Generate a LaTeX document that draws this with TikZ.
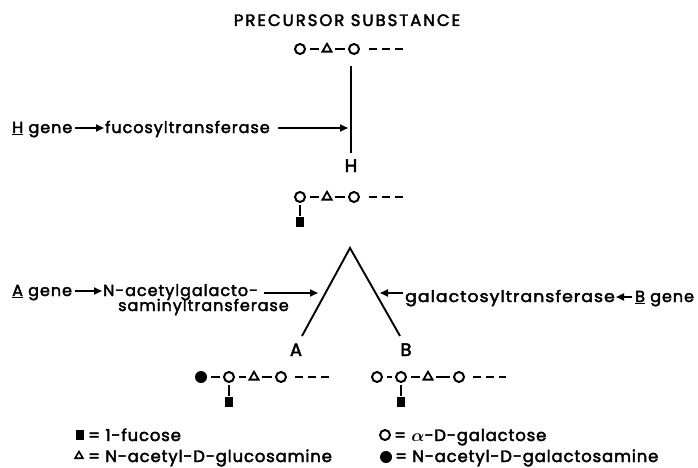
\documentclass[tikz,border=0pt]{standalone}
\usepackage{fontspec}
\setmainfont[LetterSpace=6,FakeBold=2.5]{Poppins}
\newfontfamily\legfont[LetterSpace=5,FakeBold=2.5]{Poppins}
\newfontfamily\titlefont[LetterSpace=12,FakeBold=2.5]{Poppins}
\usetikzlibrary{arrows.meta,shapes.geometric}
\begin{document}
\begin{tikzpicture}[x=1pt,y=-1pt,
  txt/.style={inner sep=0pt, anchor=base west, font=\fontsize{16}{18}\selectfont},
  big/.style={inner sep=0pt, anchor=base, font=\fontsize{18}{20}\selectfont},
  leg/.style={inner sep=0pt, anchor=base west, font=\legfont\fontsize{16.5}{19}\selectfont},
  gal/.style={circle, draw, line width=2pt, minimum size=10pt, inner sep=0pt},
  galnac/.style={circle, fill, minimum size=12pt, inner sep=0pt},
  glc/.style={regular polygon, regular polygon sides=3, draw, line width=1.8pt, minimum size=10.5pt, inner sep=0pt},
  fuc/.style={rectangle, fill, minimum width=8.5pt, minimum height=10.5pt, inner sep=0pt},
  bond/.style={line width=2pt, shorten <=3.5pt, shorten >=3.5pt},
  tail/.style={line width=2pt, dash pattern=on 8pt off 5pt},
  link/.style={line width=1.9pt},
  arr/.style={line width=1.7pt, -{Triangle[length=8pt,width=7pt]}},
]
\useasboundingbox (0,0) rectangle (698,468);

% title
\node[inner sep=0pt, anchor=base, font=\titlefont\fontsize{16.5}{19}\selectfont] (title) at (347,26) {PRECURSOR SUBSTANCE};

% top chain
\node[gal] (p1) at (300,49) {};
\node[glc] (p2) at (327,49) {};
\node[gal] (p3) at (354,49) {};
\coordinate (p4) at (369,49);
\coordinate (p5) at (404,49);
\draw[bond] (p1) -- (p2);
\draw[bond] (p2) -- (p3);
\draw[tail] (p4) -- (p5);

% H step
\coordinate (vtop) at (351,66);
\coordinate (vbot) at (351,153);
\draw[link] (vtop) -- (vbot);
\node[big] (hlab) at (351,172) {H};
\node[txt] (hgene) at (12,133) {\underline{H} gene};
\node[txt] (hfuc) at (105,133) {fucosyltransferase};
\coordinate (htip) at (348,128);
\draw[arr] ([xshift=3pt,yshift=5pt]hgene.base east) -- ([xshift=-1pt,yshift=5pt]hfuc.base west);
\draw[arr] ([xshift=8pt,yshift=5pt]hfuc.base east) -- (htip);

% H chain
\node[gal] (q1) at (300,197) {};
\node[glc] (q2) at (327,197) {};
\node[gal] (q3) at (354,197) {};
\coordinate (q4) at (369,197);
\coordinate (q5) at (404,197);
\node[fuc] (qf) at (300,222) {};
\draw[bond] (q1) -- (q2);
\draw[bond] (q2) -- (q3);
\draw[tail] (q4) -- (q5);
\draw[bond, shorten <=2pt, shorten >=1pt] (q1) -- (qf);

% branching
\coordinate (apex) at (350,248);
\coordinate (footA) at (302,336);
\coordinate (footB) at (400,336);
\draw[link, line join=miter] (footA) -- (apex) -- (footB);
\node[big] (alab) at (296,356) {A};
\node[big] (blab) at (406,356) {B};

% A enzyme
\node[txt] (agene) at (12,296) {\underline{A} gene};
\node[txt] (aenz1) at (103,296) {N-acetylgalacto-};
\node[txt] (aenz2) at (118,311) {saminyltransferase};
\coordinate (atip) at (318,293);
\draw[arr] ([xshift=3pt,yshift=5pt]agene.base east) -- ([xshift=-1pt,yshift=5pt]aenz1.base west);
\draw[arr] ([xshift=6pt,yshift=3pt]aenz1.base east) -- (atip);

% B enzyme
\node[txt] (benz) at (405,302) {\scalebox{1.08}[1]{galactosyltransferase}};
\node[txt] (bgene) at (635,302) {\underline{B} gene};
\coordinate (btip) at (380,293);
\draw[arr] ([xshift=-2pt,yshift=9pt]benz.base west) -- (btip);
\draw[arr] ([xshift=-3pt,yshift=5pt]bgene.base west) -- ([xshift=1pt,yshift=5pt]benz.base east);

% A product
\node[galnac] (r0) at (201,377) {};
\node[gal] (r1) at (229,377) {};
\node[glc] (r2) at (254,377) {};
\node[gal] (r3) at (281,377) {};
\coordinate (r4) at (295,377);
\coordinate (r5) at (333,377);
\node[fuc] (rf) at (229,402) {};
\draw[bond, shorten <=4pt] (r0) -- (r1);
\draw[bond] (r1) -- (r2);
\draw[bond] (r2) -- (r3);
\draw[tail] (r4) -- (r5);
\draw[bond, shorten <=2pt, shorten >=1pt] (r1) -- (rf);

% B product
\node[gal] (s0) at (377,377) {};
\node[gal] (s1) at (401,377) {};
\node[glc] (s2) at (428,377) {};
\node[gal] (s3) at (459,377) {};
\coordinate (s4) at (473,377);
\coordinate (s5) at (506,377);
\node[fuc] (sf) at (401,402) {};
\draw[bond] (s0) -- (s1);
\draw[bond] (s1) -- (s2);
\draw[bond] (s2) -- (s3);
\draw[tail] (s4) -- (s5);
\draw[bond, shorten <=2pt, shorten >=1pt] (s1) -- (sf);

% legend
\node[fuc] (k1) at (80,435) {};
\node[leg] (k1t) at (88,441) {= 1-fucose};
\node[glc, minimum size=9pt, line width=1.6pt] (k2) at (79,456) {};
\node[leg] (k2t) at (88,462) {= N-acetyl-D-glucosamine};
\node[gal] (k3) at (385,435) {};
\node[leg] (k3t) at (394,441) {= {\boldmath$\alpha$}-D-galactose};
\node[galnac] (k4) at (386,457) {};
\node[leg] (k4t) at (395,462) {= N-acetyl-D-galactosamine};
\end{tikzpicture}
\end{document}
